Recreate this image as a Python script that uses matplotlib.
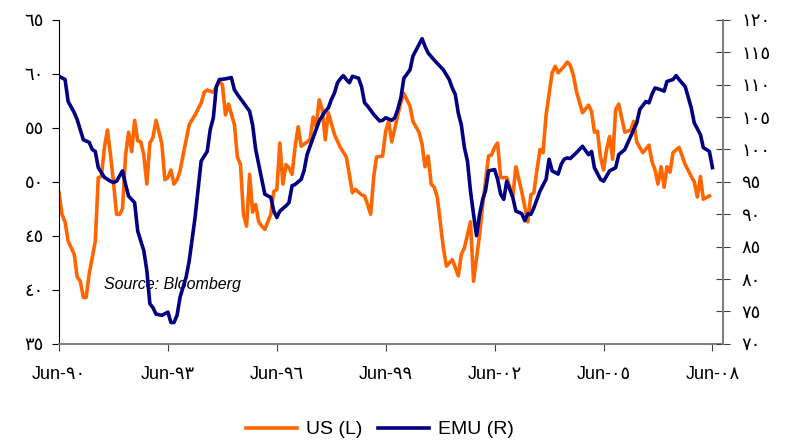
import matplotlib
matplotlib.use("Agg")
import matplotlib.pyplot as plt
import pandas as pd

# PMI readings, months counted from Jun-1990
us_months = [0, 1, 2, 3, 5, 6, 7, 8, 9, 10, 11, 12, 13, 14, 15, 16, 17, 18, 19, 20,
             21, 22, 23, 24, 25, 26, 27, 28, 29, 30, 31, 32, 33, 34, 35, 36, 37, 38, 39, 40,
             41, 43, 45, 47, 48, 49, 51, 53, 54, 55, 56, 58, 59, 60, 61, 62, 63, 64, 65, 66,
             67, 68, 70, 71, 72, 73, 74, 75, 76, 77, 78, 79, 80, 82, 83, 84, 85, 86, 87, 88,
             89, 91, 93, 95, 97, 98, 100, 101, 102, 103, 104, 105, 107, 108, 109, 110, 112, 113, 114, 116,
             117, 119, 120, 121, 122, 123, 124, 125, 127, 128, 130, 132, 133, 134, 136, 137, 139, 140, 142, 143,
             144, 145, 146, 148, 150, 151, 153, 155, 156, 157, 158, 159, 160, 161, 163, 164, 165, 167, 168, 169,
             170, 171, 173, 175, 176, 177, 178, 179, 180, 181, 182, 183, 184, 185, 187, 189, 190, 191, 193, 195,
             196, 197, 198, 199, 200, 201, 202, 203, 205, 207, 209, 210, 211, 212, 213, 215]
us_values = [49.0, 47.0, 46.3, 44.5, 43.3, 41.2, 40.8, 39.3, 39.3, 41.5, 43.0, 44.5, 50.4, 50.5, 53.2, 54.8, 52.5, 50.0, 47.0, 47.0,
             47.5, 52.5, 54.6, 52.8, 55.7, 53.8, 53.7, 52.5, 49.8, 53.6, 54.1, 55.7, 54.7, 53.5, 50.2, 50.4, 51.1, 49.8, 50.2, 51.0,
             52.5, 55.3, 56.2, 57.3, 58.3, 58.5, 58.3, 59.3, 59.0, 56.2, 57.2, 55.3, 52.3, 51.6, 47.0, 45.9, 50.7, 47.2, 47.9, 46.3,
             45.9, 45.6, 47.0, 49.1, 49.3, 53.6, 49.8, 51.6, 51.3, 50.7, 53.2, 55.1, 53.3, 53.7, 53.9, 56.0, 55.1, 57.6, 56.7, 53.9,
             56.4, 54.4, 53.2, 52.3, 49.0, 49.3, 48.8, 48.7, 47.9, 47.0, 50.5, 52.3, 52.4, 54.7, 55.6, 53.7, 56.2, 57.4, 58.2, 57.0,
             55.6, 54.6, 53.5, 51.4, 52.4, 49.8, 49.5, 48.6, 43.9, 42.2, 42.8, 41.3, 43.3, 43.9, 46.3, 40.8, 45.1, 47.9, 52.4, 52.5,
             53.2, 53.6, 50.4, 50.4, 48.6, 51.4, 49.1, 46.3, 48.8, 49.0, 51.1, 53.0, 52.7, 56.2, 60.1, 60.7, 60.1, 60.7, 61.1, 60.8,
             59.9, 58.4, 56.4, 57.1, 56.5, 54.6, 54.7, 52.3, 51.1, 53.0, 54.2, 52.1, 56.7, 57.2, 54.6, 54.8, 55.6, 53.7, 52.7, 53.4,
             51.9, 51.1, 49.8, 51.4, 49.5, 51.4, 50.9, 52.7, 53.2, 51.6, 50.5, 50.0, 48.6, 50.5, 48.4, 48.7]

emu_months = [0, 2, 3, 5, 6, 8, 10, 11, 12, 13, 15, 17, 18, 19, 21, 22, 23, 25, 26, 28,
              29, 30, 31, 32, 34, 36, 37, 38, 39, 40, 42, 43, 45, 47, 49, 50, 51, 52, 53, 55,
              57, 58, 59, 61, 63, 64, 65, 66, 67, 68, 70, 71, 72, 73, 75, 76, 77, 78, 80, 81,
              82, 84, 86, 88, 89, 90, 91, 92, 93, 94, 95, 96, 97, 99, 100, 101, 102, 104, 106, 107,
              108, 110, 111, 112, 113, 114, 116, 117, 119, 120, 121, 122, 124, 125, 127, 129, 130, 131, 132, 133,
              134, 135, 136, 137, 138, 139, 140, 141, 142, 144, 145, 146, 147, 148, 150, 151, 153, 154, 155, 156,
              157, 159, 161, 162, 163, 165, 166, 167, 168, 169, 171, 173, 175, 176, 177, 179, 180, 182, 184, 185,
              187, 189, 191, 192, 194, 195, 196, 197, 199, 200, 201, 203, 204, 205, 207, 209, 210, 212, 213, 215,
              216]
emu_values = [111.3, 110.8, 107.4, 105.7, 104.6, 101.5, 101.1, 100.0, 99.7, 97.2, 95.7, 95.1, 94.9, 95.1, 96.7, 94.6, 92.8, 91.8, 87.4, 84.4,
              81.3, 76.2, 75.6, 74.6, 74.4, 74.9, 73.3, 73.3, 74.4, 77.2, 80.3, 82.8, 89.5, 98.2, 99.7, 103.1, 104.9, 109.7, 110.8, 110.9,
              111.1, 109.2, 108.5, 107.2, 105.9, 103.8, 100.0, 97.7, 95.4, 93.1, 92.6, 90.5, 89.5, 90.5, 91.3, 91.8, 94.4, 94.6, 95.4, 96.7,
              99.2, 101.8, 104.4, 105.9, 106.4, 107.7, 108.7, 110.3, 110.9, 111.4, 110.8, 110.3, 111.3, 111.0, 109.7, 107.2, 106.7, 105.4, 104.4, 104.5,
              104.9, 104.5, 104.9, 106.2, 108.0, 111.0, 112.3, 114.4, 116.2, 117.1, 115.9, 114.9, 113.8, 113.3, 112.3, 110.8, 109.5, 108.5, 105.6, 103.8,
              100.3, 98.2, 93.6, 90.0, 86.7, 90.0, 92.3, 93.6, 96.7, 96.9, 95.4, 93.1, 92.3, 95.1, 92.6, 90.5, 90.1, 89.0, 90.1, 90.0,
              91.0, 93.6, 95.4, 98.5, 96.7, 96.2, 97.7, 98.5, 98.7, 98.6, 99.5, 100.5, 99.2, 99.7, 97.2, 95.4, 95.1, 96.7, 97.2, 99.2,
              100.0, 102.0, 104.1, 106.2, 107.4, 107.2, 108.5, 109.5, 109.2, 109.0, 110.5, 110.8, 111.4, 110.8, 109.7, 106.4, 104.1, 102.3, 100.3, 99.7,
              97.2]

tick_years = [1990, 1993, 1996, 1999, 2002, 2005, 2008]
left_ticks = [35, 40, 45, 50, 55, 60, 65]
right_ticks = [70, 75, 80, 85, 90, 95, 100, 105, 110, 115, 120]

ORANGE = "#FF6600"
NAVY = "#000080"
arabic = str.maketrans("0123456789", "٠١٢٣٤٥٦٧٨٩")

start = pd.Period("1990-06", "M")
us_dates = [(start + m).to_timestamp() for m in us_months]
emu_dates = [(start + m).to_timestamp() for m in emu_months]

plt.rcParams["font.family"] = ["Liberation Sans Narrow", "Liberation Sans", "DejaVu Sans"]

fig = plt.figure(figsize=(7.92, 4.42), dpi=100)
ax = fig.add_axes([0.0745, 0.222, 0.8385, 0.733])
ax2 = ax.twinx()

l1, = ax.plot(us_dates, us_values, color=ORANGE, lw=2.6, label="US (L)")
l2, = ax2.plot(emu_dates, emu_values, color=NAVY, lw=2.6, label="EMU (R)")

ax.set_xlim(start.to_timestamp(), (start + 219).to_timestamp() + pd.Timedelta(days=15))
ax.set_ylim(35, 65)
ax2.set_ylim(70, 120)

xt = [pd.Timestamp(f"{y}-06-01") for y in tick_years]
ax.set_xticks(xt)
ax.set_xticklabels(["Jun-" + f"{y % 100:02d}".translate(arabic) for y in tick_years], fontsize=13)
ax.set_yticks(left_ticks)
ax.set_yticklabels([str(v).translate(arabic) for v in left_ticks], fontsize=13)
ax2.set_yticks(right_ticks)
ax2.set_yticklabels([str(v).translate(arabic) for v in right_ticks], fontsize=13)

for a in (ax, ax2):
    a.spines["top"].set_visible(False)
ax.spines["right"].set_visible(False)
ax2.spines["left"].set_visible(False)
ax2.spines["bottom"].set_visible(False)
ax.spines["left"].set_color("black")
ax.spines["bottom"].set_color("#808080")
ax.spines["bottom"].set_linewidth(1.5)
ax2.spines["right"].set_color("#808080")
ax2.spines["right"].set_linewidth(1.5)

ax.tick_params(axis="y", direction="out", length=5, color="black", pad=6)
ax.tick_params(axis="x", direction="out", length=5, color="#404040", pad=11)
ax2.tick_params(axis="y", direction="inout", length=10, color="#404040", pad=8)

ax.text(0.068, 0.182, "Source: Bloomberg", transform=ax.transAxes, fontsize=11.5,
        style="italic", family=["Liberation Sans", "DejaVu Sans"], va="center", ha="left")

fig.legend(handles=[l1, l2], loc="center", bbox_to_anchor=(0.48, 0.028), ncol=2,
           frameon=False, fontsize=14, handlelength=2.6, handletextpad=0.5, columnspacing=0.8)

fig.savefig("out.png", dpi=100)
